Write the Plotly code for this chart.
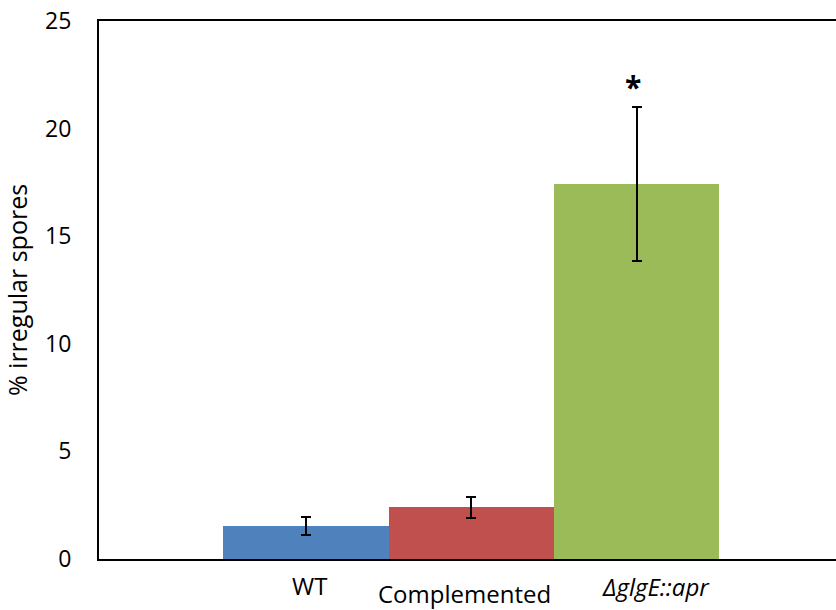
import plotly.graph_objects as go

# Strain categories and measured percentages of irregular spores
strains = ["WT", "Complemented", "ΔglgE::apr"]
strain_labels = ["WT", "Complemented", "<i>ΔglgE::apr</i>"]
irregular_pct = [1.53, 2.40, 17.43]
error_pct = [0.41, 0.50, 3.58]
bar_colors = ["#4F81BD", "#C0504D", "#9BBB59"]
y_ticks = [0, 5, 10, 15, 20, 25]

FONT = "Open Sans"

fig = go.Figure()
fig.add_trace(go.Bar(
    x=strains,
    y=irregular_pct,
    marker=dict(color=bar_colors, line=dict(width=0)),
    error_y=dict(type="data", array=error_pct, visible=True,
                 color="black", thickness=2, width=5),
    showlegend=False,
))

# significance marker above the mutant's error bar
fig.add_annotation(
    x=strains[2], y=irregular_pct[2] + error_pct[2],
    text="<b>*</b>", showarrow=False, yanchor="bottom", yshift=-2, xshift=-4,
    font=dict(family=FONT, size=30, color="black"),
)

# category labels, placed under each bar
label_offsets = [(4, -8), (-7, -16), (19, -9)]
for name, lab, (dx, dy) in zip(strains, strain_labels, label_offsets):
    fig.add_annotation(
        x=name, y=0, yref="y", text=lab, showarrow=False,
        yanchor="top", xshift=dx, yshift=dy,
        font=dict(family=FONT, size=24, color="black"),
    )

fig.update_layout(
    width=836, height=610,
    margin=dict(l=99, r=0, t=21, b=51),
    paper_bgcolor="white", plot_bgcolor="white",
    bargap=0,
    font=dict(family=FONT, color="black"),
    xaxis=dict(
        range=[-1.25, 3.205], showticklabels=False, ticks="",
        showgrid=False, zeroline=False,
        showline=True, linecolor="black", linewidth=2, mirror=True,
    ),
    yaxis=dict(
        range=[0, 25], tickvals=y_ticks, ticks="",
        showgrid=False, zeroline=False,
        showline=True, linecolor="black", linewidth=2,
        tickfont=dict(family=FONT, size=23, color="black"),
        ticklabelstandoff=21,
        title=dict(text="% irregular spores", standoff=12,
                   font=dict(family=FONT, size=25, color="black")),
    ),
)

fig.write_html("out.html")
